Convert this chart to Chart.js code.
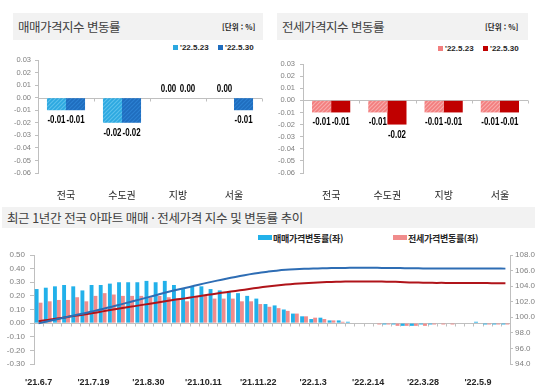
<!DOCTYPE html>
<html lang="ko">
<head>
<meta charset="utf-8">
<script src="https://cdn.jsdelivr.net/npm/chart.js@4.4.1/dist/chart.umd.min.js"></script>
<style>
  body { margin: 0; background: #fff; font-family: 'Noto Sans CJK KR', sans-serif; }
  #wrap { position: relative; width: 550px; height: 387px; overflow: hidden; }
  .band { position: absolute; background: #F2F2F2; }
  .title { position: absolute; color: #404040; font-size: 12.5px; letter-spacing: -0.5px; white-space: nowrap; }
  .unit { position: absolute; font-size: 7.5px; font-weight: bold; color: #262626; white-space: nowrap; }
  .leg { position: absolute; height: 10px; line-height: 10px; font-size: 8px; font-weight: bold; color: #262626; white-space: nowrap; font-family: 'Liberation Sans', sans-serif; }
  .leg i { display: inline-block; width: 5px; height: 5px; margin-right: 2px; vertical-align: 0px; }
  .leg2 { position: absolute; height: 12px; line-height: 12px; font-size: 9px; font-weight: bold; color: #262626; white-space: nowrap; letter-spacing: -0.3px; }
  .leg2 i { display: inline-block; width: 14px; height: 5px; margin-right: 1px; vertical-align: 2px; }
  canvas { position: absolute; }
</style>
</head>
<body>
<div id="wrap">
  <div class="band" style="left:13px;top:13px;width:250px;height:27px"></div>
  <div class="title" style="left:18px;top:13px;line-height:27px">매매가격지수 변동률</div>
  <div class="unit" style="left:222px;top:13px;line-height:27px">[단위 : %]</div>
  <div class="leg" style="left:173px;top:43px"><i style="background:#2CA8E0"></i>'22.5.23</div>
  <div class="leg" style="left:218px;top:43px"><i style="background:#1F6DBE"></i>'22.5.30</div>
  <canvas id="saleChart" width="270" height="150" style="left:0;top:50px"></canvas>

  <div class="band" style="left:277px;top:13px;width:251px;height:27px"></div>
  <div class="title" style="left:282px;top:13px;line-height:27px">전세가격지수 변동률</div>
  <div class="unit" style="left:485px;top:13px;line-height:27px">[단위 : %]</div>
  <div class="leg" style="left:438px;top:44px"><i style="background:#F27E7E"></i>'22.5.23</div>
  <div class="leg" style="left:483px;top:44px"><i style="background:#C00000"></i>'22.5.30</div>
  <canvas id="rentChart" width="278" height="150" style="left:272px;top:50px"></canvas>

  <div class="band" style="left:2px;top:207px;width:533px;height:21px"></div>
  <div class="title" style="left:7px;top:207px;line-height:21px;letter-spacing:-0.4px">최근 1년간 전국 아파트 매매 · 전세가격 지수 및 변동률 추이</div>
  <div class="leg2" style="left:258px;top:233px"><i style="background:#22B1EA"></i>매매가격변동률(좌)</div>
  <div class="leg2" style="left:393px;top:233px"><i style="background:#F08C8C"></i>전세가격변동률(좌)</div>
  <canvas id="trendChart" width="550" height="157" style="left:0;top:230px"></canvas>
</div>

<script>
const regions = ['전국', '수도권', '지방', '서울'];
const weekNames = ["'22.5.23", "'22.5.30"];

// 주간 변동률 (%)
const saleChange0523 = [-0.01, -0.02, 0.00, 0.00];
const saleChange0530 = [-0.01, -0.02, 0.00, -0.01];
const rentChange0523 = [-0.01, -0.01, -0.01, -0.01];
const rentChange0530 = [-0.01, -0.02, -0.01, -0.01];

// 최근 1년 주간 추이
const trendWeeks = [
    "'21.6.7", "'21.6.14", "'21.6.21", "'21.6.28", "'21.7.5", "'21.7.12", "'21.7.19", "'21.7.26",
    "'21.8.2", "'21.8.9", "'21.8.16", "'21.8.23", "'21.8.30", "'21.9.6", "'21.9.13", "'21.9.20",
    "'21.9.27", "'21.10.4", "'21.10.11", "'21.10.18", "'21.10.25", "'21.11.1", "'21.11.8", "'21.11.15",
    "'21.11.22", "'21.11.29", "'21.12.6", "'21.12.13", "'21.12.20", "'21.12.27", "'22.1.3", "'22.1.10",
    "'22.1.17", "'22.1.24", "'22.1.31", "'22.2.7", "'22.2.14", "'22.2.21", "'22.2.28", "'22.3.7",
    "'22.3.14", "'22.3.21", "'22.3.28", "'22.4.4", "'22.4.11", "'22.4.18", "'22.4.25", "'22.5.2",
    "'22.5.9", "'22.5.16", "'22.5.23", "'22.5.30"
];
const labelEvery = 6;

const saleWeekly = [
    0.25, 0.26, 0.27, 0.28, 0.27, 0.24, 0.28, 0.28, 0.29, 0.30,
    0.30, 0.30, 0.31, 0.30, 0.31, 0.28, 0.25, 0.27, 0.27, 0.25,
    0.24, 0.23, 0.22, 0.20, 0.18, 0.14, 0.13, 0.10, 0.07, 0.05,
    0.03, 0.04, 0.02, 0.02, 0.01, 0.00, 0.00, 0.00, -0.01, -0.01,
    -0.02, -0.02, -0.01, -0.01, 0.00, 0.00, 0.00, 0.00, 0.01, -0.01,
    -0.01, -0.01
];
const rentWeekly = [
    0.15, 0.16, 0.17, 0.17, 0.19, 0.16, 0.20, 0.22, 0.21, 0.20,
    0.20, 0.20, 0.19, 0.20, 0.19, 0.18, 0.16, 0.20, 0.20, 0.18,
    0.18, 0.18, 0.16, 0.16, 0.14, 0.12, 0.11, 0.09, 0.07, 0.05,
    0.04, 0.03, 0.02, 0.01, 0.00, 0.00, 0.00, -0.01, -0.01, -0.02,
    -0.02, -0.02, -0.02, -0.01, -0.01, -0.01, 0.00, 0.00, 0.00, -0.01,
    -0.01, -0.01
];
const saleIndex = [
    99.22, 99.48, 99.75, 100.0, 100.27, 100.51, 100.79, 101.07, 101.36, 101.66,
    101.97, 102.27, 102.59, 102.9, 103.22, 103.5, 103.76, 104.04, 104.32, 104.58,
    104.83, 105.07, 105.3, 105.51, 105.7, 105.85, 105.99, 106.1, 106.17, 106.22,
    106.26, 106.3, 106.32, 106.34, 106.35, 106.35, 106.35, 106.35, 106.34, 106.33,
    106.31, 106.29, 106.28, 106.27, 106.27, 106.27, 106.27, 106.27, 106.28, 106.27,
    106.26, 106.25
];
const rentIndex = [
    99.5, 99.66, 99.83, 100.0, 100.19, 100.35, 100.55, 100.76, 100.96, 101.15,
    101.34, 101.53, 101.72, 101.91, 102.09, 102.27, 102.43, 102.62, 102.8, 102.97,
    103.14, 103.31, 103.47, 103.63, 103.8, 103.95, 104.08, 104.2, 104.3, 104.38,
    104.45, 104.5, 104.54, 104.57, 104.59, 104.6, 104.6, 104.6, 104.58, 104.55,
    104.5, 104.47, 104.44, 104.42, 104.42, 104.41, 104.41, 104.41, 104.4, 104.39,
    104.38, 104.37
];

const numFont = "'Liberation Sans Narrow', 'Liberation Sans', sans-serif";
Chart.defaults.font.family = "'Noto Sans CJK KR', sans-serif";
Chart.defaults.animation = false;

// diagonal stripe fill like the original bars
function hatch(base, stripe) {
    const c = document.createElement('canvas');
    c.width = 4;
    c.height = 4;
    const g = c.getContext('2d');
    g.fillStyle = base;
    g.fillRect(0, 0, 4, 4);
    g.strokeStyle = stripe;
    g.lineWidth = 1.2;
    g.beginPath();
    g.moveTo(0, 4); g.lineTo(4, 0);
    g.moveTo(-1, 1); g.lineTo(1, -1);
    g.moveTo(3, 5); g.lineTo(5, 3);
    g.stroke();
    return g.createPattern(c, 'repeat');
}

function fmt(v, d) {
    if (Math.abs(v) < 1e-9) v = 0;
    return v.toFixed(d);
}

// axis line at 0 with small ticks between categories
const zeroAxis = {
    id: 'zeroAxis',
    beforeDatasetsDraw(chart, args, opts) {
        const { ctx, chartArea, scales } = chart;
        const y = Math.round(scales.y.getPixelForValue(0)) + 0.5;
        const n = chart.data.labels.length;
        ctx.save();
        ctx.strokeStyle = opts.color || '#BFBFBF';
        ctx.lineWidth = 1;
        ctx.beginPath();
        ctx.moveTo(chartArea.left, y);
        ctx.lineTo(chartArea.right, y);
        for (let i = 0; i <= n; i++) {
            const x = Math.round(chartArea.left + (chartArea.right - chartArea.left) * i / n) + 0.5;
            ctx.moveTo(x, y);
            ctx.lineTo(x, y + (opts.tick || 3));
        }
        ctx.stroke();
        ctx.restore();
    }
};

// value under/over each bar, squeezed a bit like a narrow font
const valueLabels = {
    id: 'valueLabels',
    afterDatasetsDraw(chart) {
        const ctx = chart.ctx;
        chart.data.datasets.forEach((ds, i) => {
            chart.getDatasetMeta(i).data.forEach((bar, j) => {
                const v = ds.data[j];
                const y = v < 0 ? bar.y + 10 : bar.y - 9;
                ctx.save();
                ctx.translate(bar.x, y);
                ctx.scale(0.72, 1);
                ctx.font = 'bold 11px ' + numFont;
                ctx.fillStyle = '#000';
                ctx.textAlign = 'center';
                ctx.textBaseline = 'middle';
                ctx.fillText(fmt(v, 2), 0, 0);
                ctx.restore();
            });
        });
    }
};

function weeklyBarChart(id, prev, last, colPrev, colLast, pad) {
    return new Chart(document.getElementById(id), {
        type: 'bar',
        data: {
            labels: regions,
            datasets: [
                { label: weekNames[0], data: prev, backgroundColor: colPrev },
                { label: weekNames[1], data: last, backgroundColor: colLast }
            ]
        },
        options: {
            responsive: false,
            categoryPercentage: 0.68,
            barPercentage: 1.0,
            layout: { padding: { top: pad.top, right: pad.right, left: 0, bottom: 0 } },
            plugins: {
                legend: { display: false },
                tooltip: { enabled: false },
                zeroAxis: { tick: 3 }
            },
            scales: {
                x: {
                    grid: { display: false },
                    border: { display: false },
                    ticks: { color: '#262626', font: { size: 10 }, padding: 8 },
                    afterFit: s => { s.height = 27; }
                },
                y: {
                    min: -0.06,
                    max: 0.03,
                    ticks: {
                        stepSize: 0.01,
                        autoSkip: false,
                        color: '#808080',
                        font: { size: 7.5, family: numFont },
                        padding: pad.tickPad,
                        callback: v => fmt(v, 2)
                    },
                    grid: { drawOnChartArea: false, tickLength: 3, color: '#BFBFBF' },
                    border: { color: '#BFBFBF' },
                    afterFit: s => { s.width = pad.axis; }
                }
            }
        },
        plugins: [zeroAxis, valueLabels]
    });
}

document.addEventListener('DOMContentLoaded', () => {
    weeklyBarChart('saleChart', saleChange0523, saleChange0530,
        hatch('#2CA8E0', '#5CC0EC'), hatch('#1F6DBE', '#2C80D2'),
        { top: 10, right: 8, axis: 38, tickPad: 4 });
    weeklyBarChart('rentChart', rentChange0523, rentChange0530,
        hatch('#F27E7E', '#F8AAAA'), '#C00000',
        { top: 14, right: 22, axis: 31, tickPad: 5 });

    new Chart(document.getElementById('trendChart'), {
        data: {
            labels: trendWeeks,
            datasets: [
                { type: 'line', label: '매매가격지수(우)', data: saleIndex, yAxisID: 'y2', borderColor: '#2E6DB4', borderWidth: 2, pointRadius: 0, tension: 0.3, order: 0 },
                { type: 'line', label: '전세가격지수(우)', data: rentIndex, yAxisID: 'y2', borderColor: '#B0141A', borderWidth: 2, pointRadius: 0, tension: 0.3, order: 0 },
                { type: 'bar', label: '매매가격변동률(좌)', data: saleWeekly, yAxisID: 'y', backgroundColor: '#22B1EA', order: 1 },
                { type: 'bar', label: '전세가격변동률(좌)', data: rentWeekly, yAxisID: 'y', backgroundColor: '#F08C8C', order: 1 }
            ]
        },
        options: {
            responsive: false,
            categoryPercentage: 0.85,
            barPercentage: 1.0,
            layout: { padding: { top: 25, left: 0, right: 0, bottom: 0 } },
            plugins: {
                legend: { display: false },
                tooltip: { enabled: false },
                zeroAxis: { tick: 3 }
            },
            scales: {
                x: {
                    grid: { display: false },
                    border: { display: false },
                    ticks: {
                        autoSkip: false,
                        maxRotation: 0,
                        padding: 5,
                        color: '#262626',
                        font: { size: 9, weight: 'bold', family: "'Liberation Sans', sans-serif" },
                        callback: (v, i) => (i % labelEvery === 0 ? trendWeeks[i] : '')
                    },
                    afterFit: s => { s.height = 23; }
                },
                y: {
                    position: 'left',
                    min: -0.3,
                    max: 0.5,
                    ticks: { stepSize: 0.1, autoSkip: false, color: '#808080', font: { size: 8, family: numFont }, padding: 5, callback: v => fmt(v, 2) },
                    grid: { drawOnChartArea: false, tickLength: 4, color: '#BFBFBF' },
                    border: { color: '#BFBFBF' },
                    afterFit: s => { s.width = 34; }
                },
                y2: {
                    position: 'right',
                    min: 94,
                    max: 108,
                    ticks: { stepSize: 2, autoSkip: false, color: '#808080', font: { size: 8, family: numFont }, padding: 2, callback: v => fmt(v, 1) },
                    grid: { drawOnChartArea: false, tickLength: 3, color: '#BFBFBF' },
                    border: { color: '#BFBFBF' },
                    afterFit: s => { s.width = 40; }
                }
            }
        },
        plugins: [zeroAxis]
    });
});
</script>
</body>
</html>
